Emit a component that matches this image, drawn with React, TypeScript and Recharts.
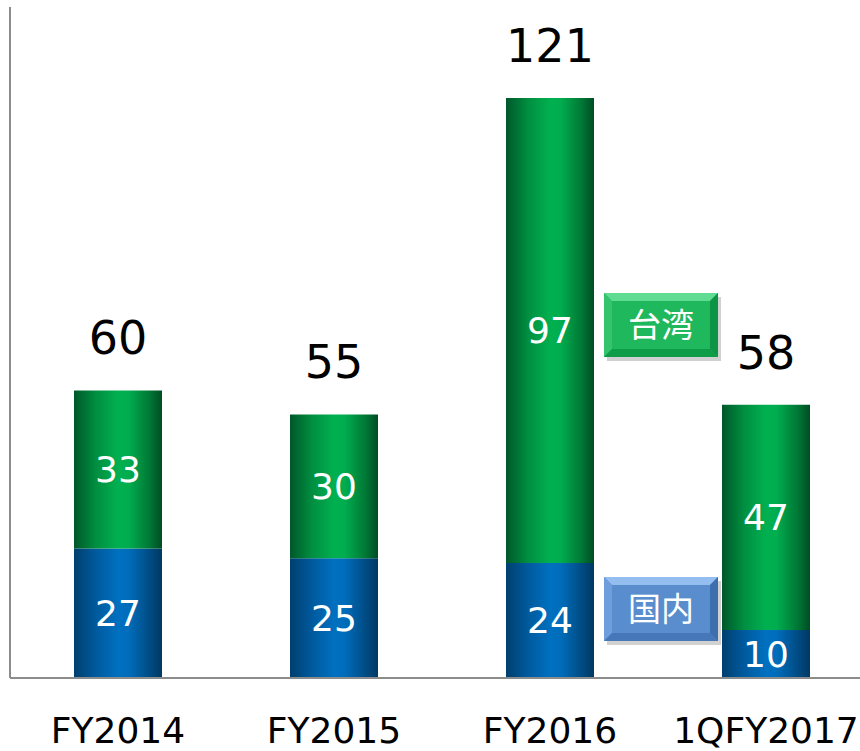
import React from 'react';
import { BarChart, Bar, XAxis, YAxis, LabelList } from 'recharts';

const categories = ['FY2014', 'FY2015', 'FY2016', '1QFY2017'];
const domestic = [27, 25, 24, 10];
const taiwan = [33, 30, 97, 47];
const totals = [60, 55, 121, 58];

const chartData = categories.map((name, i) => ({
  name,
  domestic: domestic[i],
  taiwan: taiwan[i],
  total: totals[i],
}));

const NUM_FONT = '"DejaVu Sans", Verdana, sans-serif';
const CJK_FONT = '"Noto Sans CJK JP", "Noto Sans CJK SC", sans-serif';

function TagBox({ left, top, text, face, light, side, dark, bottom }: any) {
  const w = 114;
  const h = 64;
  const b = 8;
  return (
    <svg
      width={w + 6}
      height={h + 6}
      style={{ position: 'absolute', left, top, overflow: 'visible' }}
    >
      <rect x={3} y={4} width={w} height={h} fill="#000" opacity={0.18} />
      <rect x={0} y={0} width={w} height={h} fill={face} />
      <polygon points={`0,0 ${w},0 ${w - b},${b} ${b},${b}`} fill={light} />
      <polygon points={`0,0 ${b},${b} ${b},${h - b} 0,${h}`} fill={side} />
      <polygon points={`${w},0 ${w},${h} ${w - b},${h - b} ${w - b},${b}`} fill={dark} />
      <polygon points={`0,${h} ${b},${h - b} ${w - b},${h - b} ${w},${h}`} fill={bottom} />
      <text
        x={w / 2}
        y={h / 2 + 12}
        textAnchor="middle"
        fill="#fff"
        fontSize={33}
        fontFamily={CJK_FONT}
      >
        {text}
      </text>
    </svg>
  );
}

const TotalLabel = (props: any) => {
  const { x, y, width, index } = props;
  return (
    <text
      x={x + width / 2}
      y={y - 36}
      textAnchor="middle"
      fill="#000"
      fontSize={46}
      fontFamily={NUM_FONT}
    >
      {totals[index]}
    </text>
  );
};

export default function App() {
  return (
    <div
      style={{
        position: 'fixed',
        left: 0,
        top: 0,
        width: 860,
        height: 751,
        overflow: 'hidden',
        background: '#fff',
      }}
    >
      <BarChart
        width={880}
        height={751}
        data={chartData}
        margin={{ top: 7, right: 6, bottom: 0, left: 8 }}
      >
        <defs>
          <linearGradient id="gGreen" x1="0" y1="0" x2="1" y2="0">
            <stop offset="0%" stopColor="#00572b" />
            <stop offset="25%" stopColor="#008f40" />
            <stop offset="50%" stopColor="#00b050" />
            <stop offset="62%" stopColor="#00ad4f" />
            <stop offset="85%" stopColor="#007a36" />
            <stop offset="100%" stopColor="#004d24" />
          </linearGradient>
          <linearGradient id="gBlue" x1="0" y1="0" x2="1" y2="0">
            <stop offset="0%" stopColor="#003f6e" />
            <stop offset="25%" stopColor="#005a9e" />
            <stop offset="50%" stopColor="#0070c0" />
            <stop offset="62%" stopColor="#006dbb" />
            <stop offset="85%" stopColor="#004d86" />
            <stop offset="100%" stopColor="#003862" />
          </linearGradient>
        </defs>
        <XAxis
          dataKey="name"
          axisLine={{ stroke: '#8c8c8c', strokeWidth: 2 }}
          tickLine={false}
          tickSize={0}
          tickMargin={39}
          height={73}
          interval={0}
          tick={{ fill: '#000', fontSize: 36, fontFamily: NUM_FONT }}
        />
        <YAxis
          domain={[0, 140]}
          width={2}
          tick={false}
          tickLine={false}
          axisLine={{ stroke: '#8c8c8c', strokeWidth: 2 }}
        />
        <Bar dataKey="domestic" stackId="a" fill="url(#gBlue)" barSize={88} isAnimationActive={false}>
          <LabelList
            dataKey="domestic"
            position="center"
            fill="#fff"
            fontSize={36}
            fontFamily={NUM_FONT}
          />
        </Bar>
        <Bar dataKey="taiwan" stackId="a" fill="url(#gGreen)" barSize={88} isAnimationActive={false}>
          <LabelList
            dataKey="taiwan"
            position="center"
            fill="#fff"
            fontSize={36}
            fontFamily={NUM_FONT}
          />
          <LabelList dataKey="total" content={<TotalLabel />} />
        </Bar>
      </BarChart>
      <TagBox
        left={604}
        top={293}
        text="台湾"
        face="#1fb85c"
        light="#5fdc92"
        side="#35c46e"
        dark="#0d9444"
        bottom="#0f9c48"
      />
      <TagBox
        left={604}
        top={577}
        text="国内"
        face="#5a8dcd"
        light="#94bdf0"
        side="#6e9edb"
        dark="#3d6ead"
        bottom="#4677b8"
      />
    </div>
  );
}
